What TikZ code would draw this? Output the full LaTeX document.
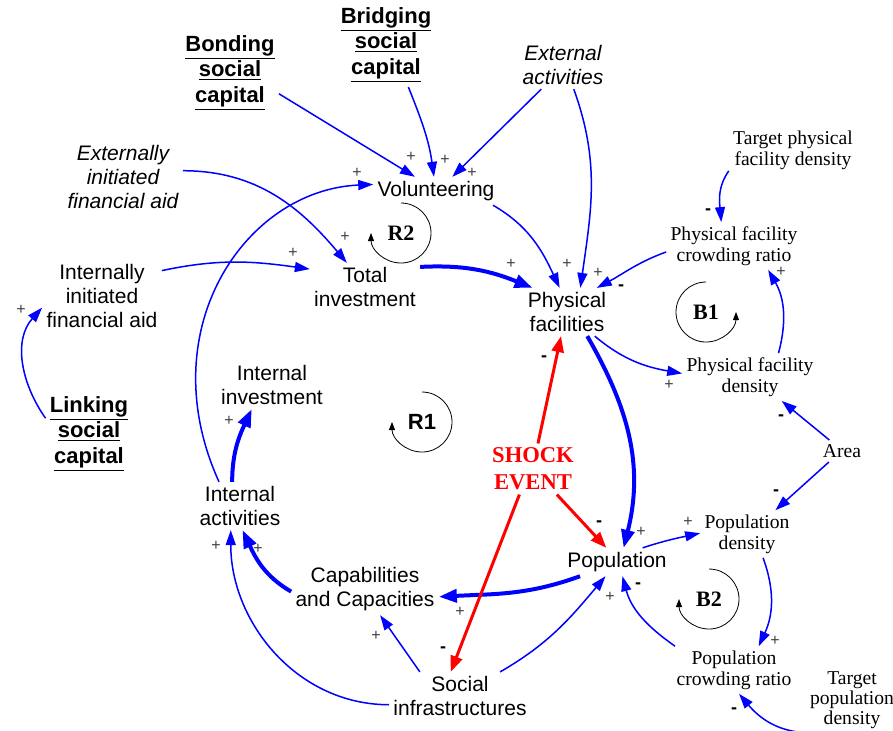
\documentclass[tikz,border=0pt]{standalone}
\usepackage{fontspec}
\setmainfont{Liberation Serif}
\setsansfont{Liberation Sans}
\usetikzlibrary{arrows.meta}

\begin{document}
\begin{tikzpicture}[x=0.5pt,y=0.5pt,
   var/.style={font=\sffamily\fontsize{10.5}{12}\selectfont,align=center,inner sep=2pt},
   exo/.style={var,font=\sffamily\itshape\fontsize{10.5}{12}\selectfont},
   soc/.style={var,font=\sffamily\bfseries\fontsize{11}{12.7}\selectfont},
   aux/.style={font=\fontsize{9.8}{10.5}\selectfont,align=center,inner sep=2pt},
   shockv/.style={font=\bfseries\fontsize{11.3}{13.5}\selectfont,align=center,text=red,inner sep=2pt},
   loopname/.style={font=\bfseries\fontsize{11}{12}\selectfont,inner sep=0pt},
   plusmark/.style={font=\sffamily\fontsize{8}{8}\selectfont,text=black!75,inner sep=0pt},
   minusmark/.style={font=\sffamily\bfseries\fontsize{9}{9}\selectfont,inner sep=0pt},
   causal/.style={draw=blue,line width=0.75pt,-{Triangle[length=7.5pt,width=5pt]}},
   causalthick/.style={draw=blue,line width=2pt,-{Triangle[length=9pt,width=6.5pt]}},
   shockarrow/.style={draw=red,line width=1.5pt,-{Triangle[length=8pt,width=6pt]}},
   loopa/.style={draw=black,line width=0.4pt,-{Triangle[length=4pt,width=3pt]}}]
   \useasboundingbox (0,0) rectangle (893,-730);
   % variables
   \node (bond) at (230,-73) [soc] {\underline{Bonding}\\\underline{social}\\\underline{capital}};
   \node (bridge) at (386,-45) [soc] {\underline{Bridging}\\\underline{social}\\\underline{capital}};
   \node (extact) at (563,-65) [exo] {External\\activities};
   \node (extaid) at (123,-177) [exo] {Externally\\initiated\\financial aid};
   \node (intaid) at (102,-296) [var] {Internally\\initiated\\financial aid};
   \node (linking) at (89,-434) [soc] {\underline{Linking}\\\underline{social}\\\underline{capital}};
   \node (volunt) at (436,-191) [var] {Volunteering};
   \node (totinv) at (365,-287) [var] {Total\\investment};
   \node (physfac) at (567,-312) [var] {Physical\\facilities};
   \node (intinv) at (272,-385) [var] {Internal\\investment};
   \node (intact) at (240,-506) [var] {Internal\\activities};
   \node (capab) at (365,-589) [var] {Capabilities\\and Capacities};
   \node (socinf) at (460,-696) [var] {Social\\infrastructures};
   \node (popul) at (617,-562) [var] {Population};
   \node (shockev) at (533,-469) [shockv] {SHOCK\\EVENT};
   \node (tphysden) at (793,-150) [aux] {Target physical\\facility density};
   \node (physcrowd) at (734,-246) [aux] {Physical facility\\crowding ratio};
   \node (physden) at (750,-377) [aux] {Physical facility\\density};
   \node (area) at (842,-451) [aux] {Area};
   \node (popden) at (747,-534) [aux] {Population\\density};
   \node (popcrowd) at (734,-670) [aux] {Population\\crowding ratio};
   \node (tpopden) at (852,-700) [aux,font=\fontsize{9.8}{8.3}\selectfont] {Target\\population\\density};
   % loops
   \node (loopr2) at (401,-233) [loopname] {R2};
   \node (loopr1) at (422,-422) [loopname,font=\sffamily\bfseries\fontsize{11}{12}\selectfont] {R1};
   \node (loopb1) at (706,-312) [loopname] {B1};
   \node (loopb2) at (709,-599) [loopname] {B2};
   \draw[loopa] ([yshift=15pt]loopr2.center) arc[start angle=90,end angle=-180,radius=15pt];
   \draw[loopa] ([yshift=15pt]loopr1.center) arc[start angle=90,end angle=-180,radius=15pt];
   \draw[loopa] ([yshift=15pt]loopb1.center) arc[start angle=90,end angle=360,radius=15pt];
   \draw[loopa] ([yshift=15pt]loopb2.center) arc[start angle=90,end angle=-180,radius=15pt];
   % links
   \draw[causal] (bond.-23) -- (volunt.146);
   \draw[causal] (bridge.-62) to[out=-68,in=98] (volunt.98);
   \draw[causal] (extact.-132) -- (volunt.41);
   \draw[causal] (extact.-66) to[out=-70,in=82] (physfac.61);
   \draw[causal] (volunt.-14) to[out=-30,in=115] (physfac.107);
   \draw[causalthick] (totinv.20) to[out=3,in=158] (physfac.145);
   \draw[causal] (physcrowd.185) to[out=200,in=28] (physfac.39);
   \draw[causal] (extaid.6) to[out=0,in=130] (totinv.127);
   \draw[causal] (intaid.23) to[out=12,in=172] (totinv.162);
   \draw[causal] (intact.131) .. controls (150,-330) and (245,-190) .. (volunt.174);
   \draw[causal] (linking.160) to[out=125,in=228] (intaid.191);
   \draw[causalthick] (intact.108) to[out=90,in=245] (intinv.230);
   \draw[causalthick] (capab.182) to[out=150,in=-65] (intact.-84);
   \draw[causal] (socinf.187) to[out=180,in=-90] (intact.249);
   \draw[causal] (socinf.149) -- (capab.-60);
   \draw[causal] (socinf.31) to[out=30,in=-130] (popul.231);
   \draw[causalthick] (popul.201) to[out=200,in=3] (capab.-6);
   \draw[causalthick] (physfac.-50) to[out=-60,in=76] (popul.65);
   \draw[causal] (physfac.-41) to[out=-40,in=170] (physden.177);
   \draw[causal] (physden.40) to[out=75,in=-60] (physcrowd.-35);
   \draw[causal] (tphysden.198) to[out=235,in=95] (physcrowd.118);
   \draw[causal] (area.139) -- (physden.-37);
   \draw[causal] (area.220) -- (popden.40);
   \draw[causal] (popul.29) to[out=18,in=192] (popden.179);
   \draw[causal] (popden.-56) to[out=-70,in=65] (popcrowd.44);
   \draw[causal] (popcrowd.158) to[out=145,in=-75] (popul.-69);
   \draw[causal] (tpopden.218) to[out=180,in=-50] (popcrowd.-78);
   \draw[shockarrow] (shockev.79) -- (physfac.256);
   \draw[shockarrow] (shockev.-47) -- (popul.127);
   \draw[shockarrow] (shockev.242) -- (socinf.111);
   % polarities
   \foreach \x/\y [count=\i] in {411/157,445/160,472/173,598/273,567/264,511/264,345/237,
      293/253,357/173,21/310,229/421,258/549,216/546,376/636,610/597,460/612,641/532,
      669/385,781/272,688/522,775/641}
      \node (plus\i) at (\x,-\y) [plusmark] {+};
   \foreach \x/\y [count=\i] in {621/288,708/212,781/418,776/493,638/586,734/711,
      544/359,599/524,443/650}
      \node (minus\i) at (\x,-\y) [minusmark] {-};
\end{tikzpicture}
\end{document}
